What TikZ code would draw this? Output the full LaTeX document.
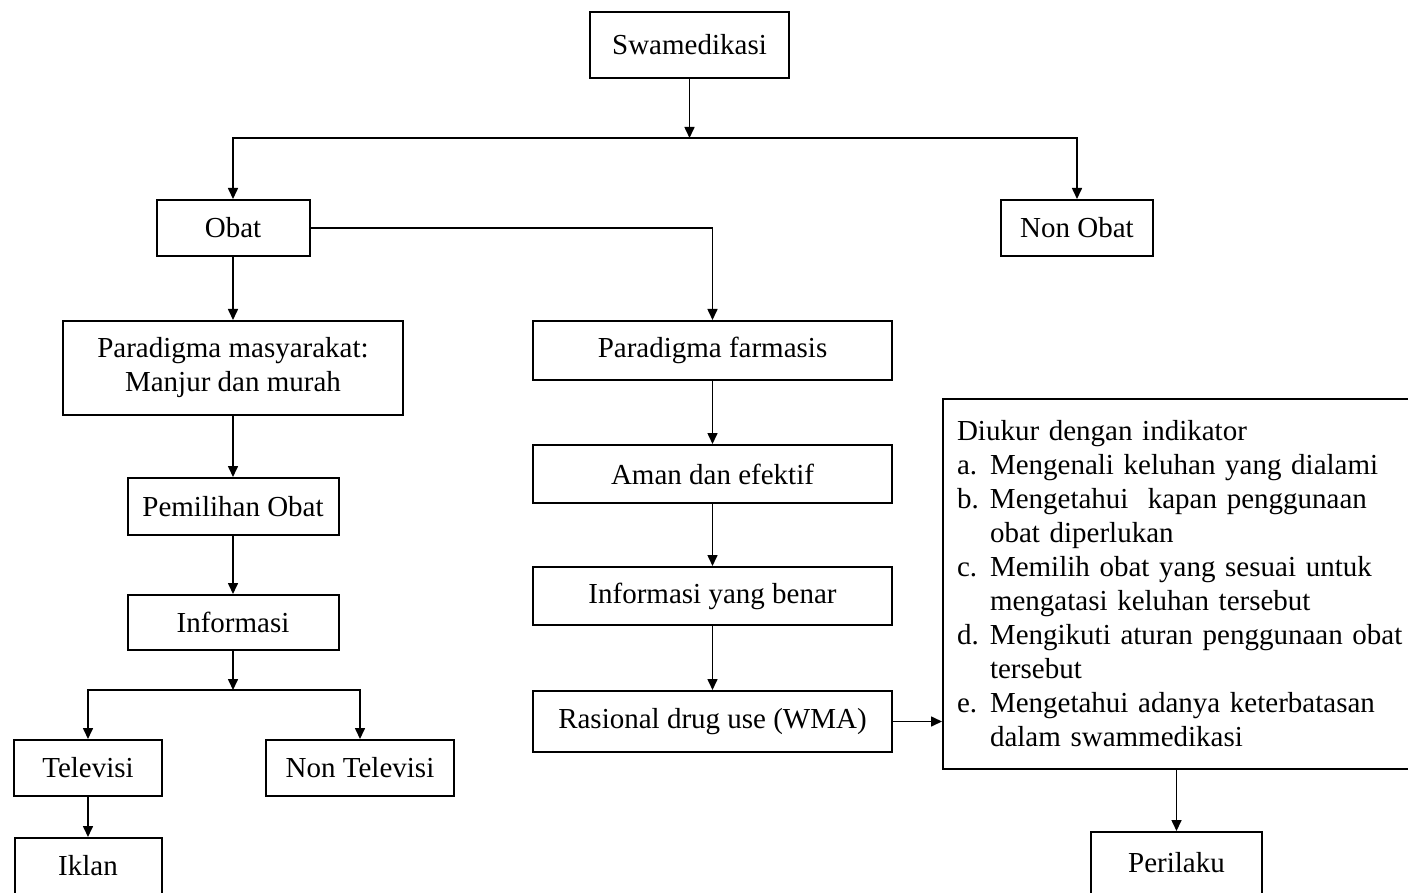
\documentclass[tikz,border=0pt]{standalone}
\usepackage{fontspec}
\setmainfont{Liberation Serif}
\usetikzlibrary{arrows.meta}
\begin{document}
\begin{tikzpicture}[x=1pt,y=-1pt,
  box/.style={draw, line width=2pt, inner sep=0pt, align=center,
    font=\fontsize{29}{34}\selectfont},
  arr/.style={line width=1.6pt, -{Triangle[length=11pt,width=10pt]}},
  ln/.style={line width=1.6pt}]
\useasboundingbox[fill=white] (0,0) rectangle (1408,893);
% nodes
\node[box, minimum width=199, minimum height=66] (swa) at (689.5,45) {Swamedikasi};
\node[box, minimum width=153, minimum height=56] (obat) at (233,228) {Obat};
\node[box, minimum width=152, minimum height=56] (nonobat) at (1077,228) {Non Obat};
\node[box, minimum width=340, minimum height=94] (pm) at (233,368) {Paradigma masyarakat:\\Manjur dan murah};
\node[box, minimum width=359, minimum height=59] (pf) at (712.5,350.5) {Paradigma farmasis};
\node[box, minimum width=359, minimum height=58] (aman) at (712.5,474) {Aman dan efektif};
\node[box, minimum width=359, minimum height=58] (ib) at (712.5,596) {Informasi yang benar};
\node[box, minimum width=359, minimum height=61] (ras) at (712.5,721.5) {Rasional drug use (WMA)};
\node[box, minimum width=211, minimum height=57] (pem) at (233,506.5) {Pemilihan Obat};
\node[box, minimum width=211, minimum height=55] (inf) at (233,622.5) {Informasi};
\node[box, minimum width=148, minimum height=56] (tv) at (88,768) {Televisi};
\node[box, minimum width=188, minimum height=56] (ntv) at (360,768) {Non Televisi};
\node[box, minimum width=147, minimum height=56] (iklan) at (88,866) {Iklan};
\node[box, minimum width=171, minimum height=62] (per) at (1176.5,863) {Perilaku};
\node[box, anchor=north west, align=left, text width=450pt, inner xsep=14pt,
  minimum height=370] (ind) at (942,398) {%
Diukur dengan indikator\\
\makebox[33pt][l]{a.}Mengenali keluhan yang dialami\\
\makebox[33pt][l]{b.}Mengetahui\ \ kapan penggunaan\\
\hspace*{33pt}obat diperlukan\\
\makebox[33pt][l]{c.}Memilih obat yang sesuai untuk\\
\hspace*{33pt}mengatasi keluhan tersebut\\
\makebox[33pt][l]{d.}Mengikuti aturan penggunaan obat\\
\hspace*{33pt}tersebut\\
\makebox[33pt][l]{e.}Mengetahui adanya keterbatasan\\
\hspace*{33pt}dalam swammedikasi};
% junctions
\coordinate (j1) at (689.5,138);
\coordinate (j2) at (233,690);
% connectors
\draw[arr] (swa.south) -- (j1);
\draw[arr] (j1) -| (obat.north);
\draw[arr] (j1) -| (nonobat.north);
\draw[arr] (obat.east) -| (pf.north);
\draw[arr] (obat.south) -- (pm.north);
\draw[arr] (pm.south) -- (pem.north);
\draw[arr] (pem.south) -- (inf.north);
\draw[arr] (inf.south) -- (j2);
\draw[arr] (j2) -| (tv.north);
\draw[arr] (j2) -| (ntv.north);
\draw[arr] (tv.south) -- (iklan.north);
\draw[arr] (pf.south) -- (aman.north);
\draw[arr] (aman.south) -- (ib.north);
\draw[arr] (ib.south) -- (ras.north);
\draw[arr] (ras.east) -- (ras.east -| ind.west);
\draw[arr] (ind.south -| per.north) -- (per.north);
\end{tikzpicture}
\end{document}
